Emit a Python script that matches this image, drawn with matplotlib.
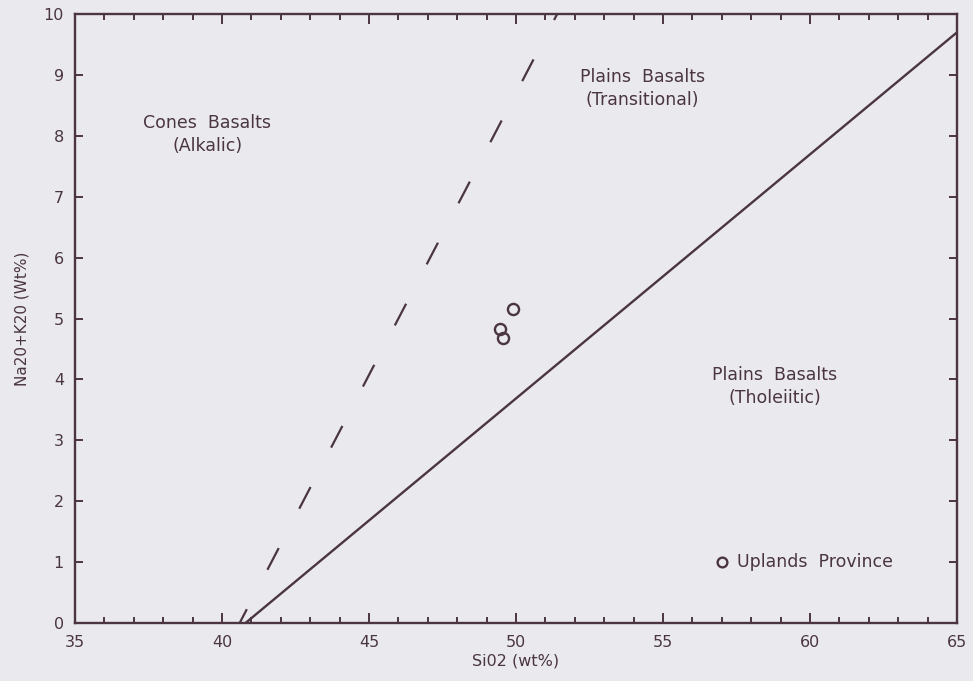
import matplotlib
matplotlib.use("Agg")
import matplotlib.pyplot as plt
from matplotlib.ticker import MultipleLocator

# Uplands Province samples (SiO2 wt%, Na2O+K2O wt%)
sio2 = [49.88, 49.44, 49.57]
alkali = [5.16, 4.83, 4.68]

# dividing lines between basalt fields
solid_x = [40.8, 65.0]
solid_y = [0.0, 9.7]
dashed_x = [40.6, 51.4]
dashed_y = [0.0, 10.0]

# field labels: (x, y, text)
field_labels = [
    (39.5, 8.02, "Cones  Basalts\n(Alkalic)"),
    (54.3, 8.77, "Plains  Basalts\n(Transitional)"),
    (58.8, 3.89, "Plains  Basalts\n(Tholeiitic)"),
]

ink = "#4a3540"
paper = "#e9e9ee"

plt.rcParams["font.family"] = ["DejaVu Sans"]
fig = plt.figure(figsize=(9.73, 6.81), dpi=100, facecolor=paper)
ax = fig.add_axes([0.0771, 0.0852, 0.9065, 0.8942], facecolor=paper)

ax.plot(solid_x, solid_y, color=ink, lw=1.7, solid_capstyle="butt")
ax.plot(dashed_x, dashed_y, color=ink, lw=1.6, linestyle=(4, (11, 20)))
ax.plot(sio2, alkali, "o", mfc="none", mec=ink, mew=1.7, ms=8)

for x, y, t in field_labels:
    ax.text(x, y, t, ha="center", va="center", color=ink, fontsize=12.5,
            linespacing=1.35)

# legend drawn as marker + text in the lower right
ax.plot([57.0], [1.0], "o", mfc="none", mec=ink, mew=1.7, ms=7)
ax.text(57.5, 1.0, "Uplands  Province", ha="left", va="center",
        color=ink, fontsize=12.5)

ax.set_xlim(35, 65)
ax.set_ylim(0, 10)
ax.xaxis.set_major_locator(MultipleLocator(5))
ax.xaxis.set_minor_locator(MultipleLocator(1))
ax.yaxis.set_major_locator(MultipleLocator(1))

ax.tick_params(axis="both", which="both", direction="in", top=True,
               right=True, colors=ink, labelcolor=ink, labelsize=11.5)
ax.tick_params(axis="x", which="major", length=7, width=1.4, pad=9)
ax.tick_params(axis="x", which="minor", length=4, width=1.4)
ax.tick_params(axis="y", which="major", length=6, width=1.4, pad=8)

for s in ax.spines.values():
    s.set_color(ink)
    s.set_linewidth(1.7)

ax.set_xlabel("Si02 (wt%)", color=ink, fontsize=11.5, labelpad=2)
ax.set_ylabel("Na20+K20 (Wt%)", color=ink, fontsize=11, labelpad=10)

fig.savefig("out.png", dpi=100, facecolor=paper)
